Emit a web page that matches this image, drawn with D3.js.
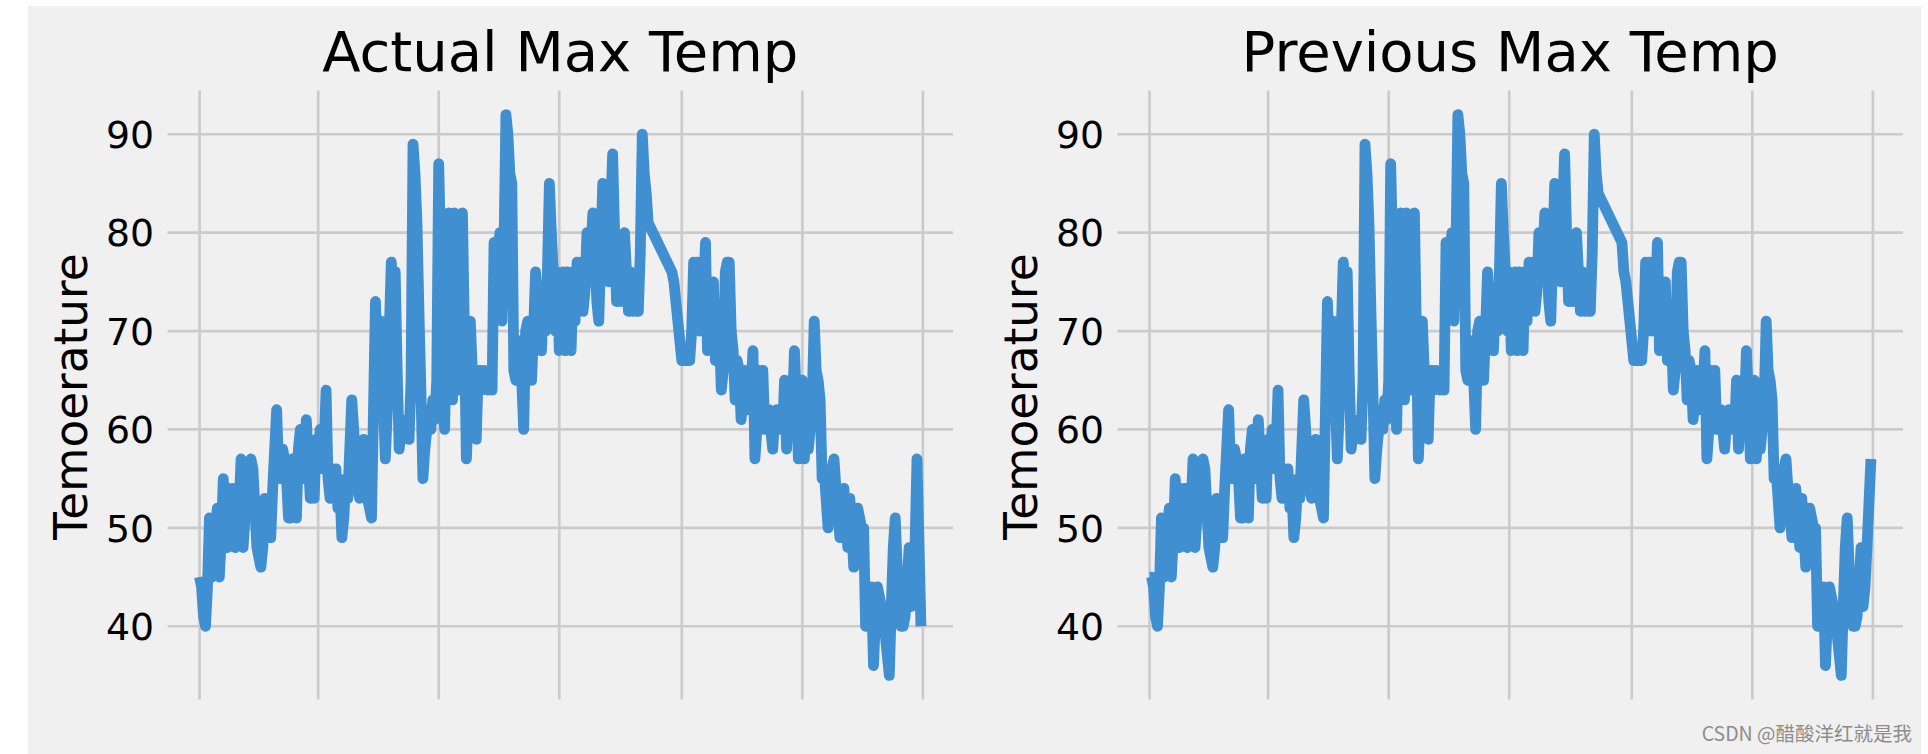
<!DOCTYPE html>
<html>
<head>
<meta charset="utf-8">
<script src="https://cdn.jsdelivr.net/npm/d3@7"></script>
<style>
  html, body { margin: 0; padding: 0; background: #ffffff; }
  svg { display: block; }
</style>
</head>
<body>
<svg id="chart" width="1928" height="754"></svg>
<script>
// ---------------- data ----------------
const startDate = "2016-01-01";          // first calendar day of the series
const titles = ["Actual Max Temp", "Previous Max Temp"];
const yLabel = "Temoerature";
const yTickValues = [40, 50, 60, 70, 80, 90];
const watermark = "CSDN @醋酸洋红就是我";

// daily max temperature, one entry per calendar day of 2016 (null = no record)
const actual = [
  // Jan
  45,44,41,40,44,51,45,48,50,52,45,49,55,49,48,54,50,54,48,52,52,57,48,51,54,56,57,56,52,48,47,
  // Feb
  46,48,53,51,50,49,54,58,62,56,55,58,57,55,51,51,57,52,51,58,60,55,56,61,57,53,54,53,59,
  // Mar
  57,60,56,58,64,55,53,56,55,56,52,54,49,51,55,53,58,63,60,56,54,53,56,59,55,53,52,51,62,73,66,
  // Apr
  70,71,63,57,62,70,77,74,76,66,58,60,59,60,61,59,65,89,86,81,72,64,55,58,60,62,60,63,61,65,
  // May
  87,78,64,60,70,82,66,63,82,68,64,71,82,70,57,62,71,66,62,59,66,66,64,66,65,64,66,64,79,74,78,
  // Jun
  80,71,78,92,90,86,85,66,65,66,69,65,60,70,71,66,65,70,76,73,70,68,73,70,76,85,80,76,70,76,
  // Jul
  68,72,76,68,76,73,68,76,71,77,74,77,72,74,80,75,78,82,78,73,71,78,85,81,79,75,82,88,80,73,76,
  // Aug
  73,75,80,76,72,76,72,75,72,72,78,90,86,84,81,null,null,null,null,null,null,null,null,null,null,null,76,75,73,71,69,
  // Sep
  67,67,67,67,67,70,77,72,77,70,71,74,79,68,75,71,75,67,71,70,64,66,76,77,77,70,68,63,67,66,
  // Oct
  61,63,66,64,62,64,68,57,60,66,64,66,60,62,62,60,58,61,62,60,62,60,65,58,62,65,62,68,63,57,60,
  // Nov
  65,57,62,58,60,63,71,66,65,63,55,56,53,50,54,56,57,54,52,49,52,54,51,48,53,50,46,49,52,51,
  // Dec
  50,50,40,40,43,44,36,41,44,43,42,41,39,37,35,42,48,51,46,42,40,40,41,44,48,42,44,48,57,null,40
];

// max temperature of the previous day, same calendar days
const previous = [
  // Jan
  45,45,44,41,40,44,51,45,48,50,52,45,49,55,49,48,54,50,54,48,52,52,57,48,51,54,56,57,56,52,48,
  // Feb
  47,46,48,53,51,50,49,54,58,62,56,55,58,57,55,51,51,57,52,51,58,60,55,56,61,57,53,54,53,
  // Mar
  59,57,60,56,58,64,55,53,56,55,56,52,54,49,51,55,53,58,63,60,56,54,53,56,59,55,53,52,51,62,73,
  // Apr
  66,70,71,63,57,62,70,77,74,76,66,58,60,59,60,61,59,65,89,86,81,72,64,55,58,60,62,60,63,61,
  // May
  65,87,78,64,60,70,82,66,63,82,68,64,71,82,70,57,62,71,66,62,59,66,66,64,66,65,64,66,64,79,74,
  // Jun
  78,80,71,78,92,90,86,85,66,65,66,69,65,60,70,71,66,65,70,76,73,70,68,73,70,76,85,80,76,70,
  // Jul
  76,68,72,76,68,76,73,68,76,71,77,74,77,72,74,80,75,78,82,78,73,71,78,85,81,79,75,82,88,80,73,
  // Aug
  76,73,75,80,76,72,76,72,75,72,72,78,90,86,84,null,null,null,null,null,null,null,null,null,null,null,79,76,75,73,71,
  // Sep
  69,67,67,67,67,67,70,77,72,77,70,71,74,79,68,75,71,75,67,71,70,64,66,76,77,77,70,68,63,67,
  // Oct
  66,61,63,66,64,62,64,68,57,60,66,64,66,60,62,62,60,58,61,62,60,62,60,65,58,62,65,62,68,63,57,
  // Nov
  60,65,57,62,58,60,63,71,66,65,63,55,56,53,50,54,56,57,54,52,49,52,54,51,48,53,50,46,49,52,
  // Dec
  51,50,50,40,40,43,44,36,41,44,43,42,41,39,37,35,42,48,51,46,42,40,40,41,44,48,42,44,48,null,57
];

// ---------------- layout ----------------
const W = 1928, H = 754;
const px = 2.7;                       // pixels per point
const panelLeft = [163.5, 1113.5];
const panelWidth = 793.5;
const panelTop = 86.5, panelBottom = 703.5;
const lineColor = "#3f8fd1";
const gridColor = "#cbcbcb";
const bg = "#f0f0f0";
const font = "'DejaVu Sans', sans-serif";

const svg = d3.select("#chart");

svg.append("rect")
  .attr("x", 28).attr("y", 6)
  .attr("width", 1893).attr("height", H - 6)
  .attr("fill", bg);

const t0 = new Date(startDate + "T00:00:00Z");
function toPoints(series) {
  const pts = [];
  series.forEach((v, i) => {
    if (v !== null && v !== undefined) pts.push({ date: d3.utcDay.offset(t0, i), value: v });
  });
  return pts;
}

const seriesList = [toPoints(actual), toPoints(previous)];

seriesList.forEach((pts, k) => {
  const x0 = panelLeft[k];

  // x domain: data extent with 5% margins (matplotlib default)
  const ext = d3.extent(pts, d => d.date);
  const span = ext[1] - ext[0];
  const x = d3.scaleUtc()
    .domain([new Date(+ext[0] - 0.05 * span), new Date(+ext[1] + 0.05 * span)])
    .range([x0, x0 + panelWidth]);

  const yExt = d3.extent(pts, d => d.value);
  const ySpan = yExt[1] - yExt[0];
  const y = d3.scaleLinear()
    .domain([yExt[0] - 0.05 * ySpan, yExt[1] + 0.05 * ySpan])
    .range([panelBottom, panelTop]);

  const g = svg.append("g");

  // grid (below data)
  const grid = g.append("g");
  grid.selectAll("line.h")
    .data(yTickValues)
    .join("line")
    .attr("class", "h")
    .attr("x1", x0).attr("x2", x0 + panelWidth)
    .attr("y1", d => y(d)).attr("y2", d => y(d))
    .attr("stroke", gridColor).attr("stroke-width", 1 * px);

  const xTicks = x.ticks(d3.utcMonth.every(2));
  grid.selectAll("line.v")
    .data(xTicks)
    .join("line")
    .attr("class", "v")
    .attr("x1", d => x(d)).attr("x2", d => x(d))
    .attr("y1", panelTop).attr("y2", panelBottom)
    .attr("stroke", gridColor).attr("stroke-width", 1 * px);

  // spines (same colour as background, hide grid ends)
  g.append("rect")
    .attr("x", x0).attr("y", panelTop)
    .attr("width", panelWidth).attr("height", panelBottom - panelTop)
    .attr("fill", "none")
    .attr("stroke", bg)
    .attr("stroke-width", 3 * px);

  // data line
  const line = d3.line()
    .x(d => x(d.date))
    .y(d => y(d.value));

  g.append("path")
    .datum(pts)
    .attr("d", line)
    .attr("fill", "none")
    .attr("stroke", lineColor)
    .attr("stroke-width", 4 * px)
    .attr("stroke-linejoin", "round")
    .attr("stroke-linecap", "butt");

  // y tick labels
  g.selectAll("text.ytick")
    .data(yTickValues)
    .join("text")
    .attr("class", "ytick")
    .attr("x", x0 - 3.5 * px)
    .attr("y", d => y(d))
    .attr("dy", "0.364em")
    .attr("text-anchor", "end")
    .attr("font-family", font)
    .attr("font-size", 14 * px)
    .attr("fill", "#000")
    .text(d => d3.format("d")(d));

  // y axis label
  const cy = (panelTop + panelBottom) / 2 + 1.5;
  g.append("text")
    .attr("transform", `translate(${x0 - 77},${cy}) rotate(-90)`)
    .attr("text-anchor", "middle")
    .attr("font-family", font)
    .attr("font-size", 16.8 * px)
    .attr("fill", "#000")
    .text(yLabel);

  // title
  g.append("text")
    .attr("x", x0 + panelWidth / 2)
    .attr("y", 70.5)
    .attr("text-anchor", "middle")
    .attr("font-family", font)
    .attr("font-size", 56)
    .attr("fill", "#000")
    .text(titles[k]);
});

// watermark
svg.append("text")
  .attr("x", 1912)
  .attr("y", 741)
  .attr("text-anchor", "end")
  .attr("font-family", "'Noto Sans CJK SC', 'Noto Sans', sans-serif")
  .attr("font-size", 19.5)
  .attr("fill", "#8c8c8c")
  .text(watermark);
</script>
</body>
</html>
